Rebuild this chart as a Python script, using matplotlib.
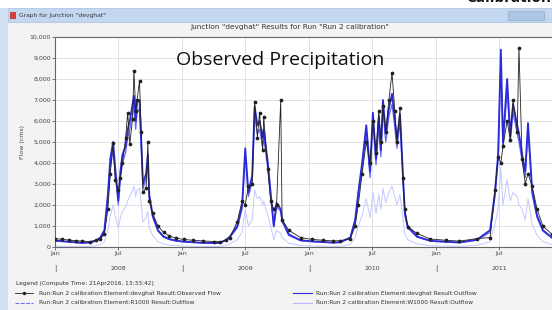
import matplotlib
matplotlib.use("Agg")
import matplotlib.pyplot as plt
import matplotlib.dates as mdates
from matplotlib.patches import Rectangle
from matplotlib.lines import Line2D
from matplotlib.ticker import FuncFormatter
import numpy as np

# ---- data (flow in cms) ----
dates = [
    "2008-01-01", "2008-01-20", "2008-02-10", "2008-03-01", "2008-03-20", "2008-04-10",
    "2008-04-28", "2008-05-10", "2008-05-22", "2008-06-01", "2008-06-08", "2008-06-16",
    "2008-06-22", "2008-07-01", "2008-07-07", "2008-07-13", "2008-07-22", "2008-07-28",
    "2008-08-03", "2008-08-11", "2008-08-15", "2008-08-20", "2008-08-24", "2008-08-31",
    "2008-09-05", "2008-09-10", "2008-09-19", "2008-09-24", "2008-09-28", "2008-10-08",
    "2008-10-23", "2008-11-08", "2008-11-25", "2008-12-15",
    "2009-01-05", "2009-02-01", "2009-03-01", "2009-04-01", "2009-04-20", "2009-05-08",
    "2009-05-18", "2009-06-08", "2009-06-22", "2009-07-01", "2009-07-10", "2009-07-21",
    "2009-07-28", "2009-08-05", "2009-08-11", "2009-08-20", "2009-08-23", "2009-09-04",
    "2009-09-12", "2009-09-21", "2009-09-29", "2009-10-11", "2009-10-15", "2009-11-03",
    "2009-12-07",
    "2010-01-10", "2010-02-10", "2010-03-10", "2010-03-31", "2010-04-29", "2010-05-13",
    "2010-05-22", "2010-06-02", "2010-06-14", "2010-06-25", "2010-07-03", "2010-07-12",
    "2010-07-20", "2010-07-26", "2010-08-01", "2010-08-09", "2010-08-18", "2010-08-27",
    "2010-09-04", "2010-09-10", "2010-09-19", "2010-09-27", "2010-10-03", "2010-10-11",
    "2010-11-07", "2010-12-14",
    "2011-01-30", "2011-03-09", "2011-04-28", "2011-06-05", "2011-06-19", "2011-06-28",
    "2011-07-06", "2011-07-12", "2011-07-24", "2011-08-02", "2011-08-10", "2011-08-22",
    "2011-08-27", "2011-09-05", "2011-09-14", "2011-09-22", "2011-10-04", "2011-10-18",
    "2011-11-04", "2011-11-30",
]
observed = [
    400, 370, 330, 300, 280, 260, 320, 380, 600, 1800, 3500, 4950,
    3200, 2700, 3300, 4000, 5200, 6400, 4900, 6100, 8400, 6500, 7000, 7900,
    5500, 2600, 2800, 5000, 2200, 1600, 1000, 700, 520, 420,
    360, 320, 290, 260, 250, 330, 450, 1200, 2200, 2000, 2900, 3000,
    6900, 5200, 6400, 4600, 6200, 3700, 2200, 1800, 2000, 7000, 1300, 800,
    450,
    360, 320, 290, 300, 400, 1000, 2000, 3500, 5000, 4000, 6000, 4500,
    6500, 5000, 6700, 5500, 7000, 8300, 6500, 5000, 6600, 3300, 1800, 950,
    650, 380,
    320, 280, 400, 450, 2700, 4300, 4000, 4800, 6000, 5100, 7000, 5500,
    9500, 4200, 3000, 3500, 2900, 1800, 1000, 600,
]
devghat_outflow = [
    300, 280, 250, 220, 200, 220, 300, 450, 800, 2500, 4200, 5000,
    3800, 2200, 3600, 4400, 4800, 5600, 6000, 6800, 7200, 6000, 6900, 7000,
    5000, 3000, 3500, 4400, 2500, 1500, 800, 500, 380, 300,
    260, 230, 200, 190, 200, 350, 500, 1000, 2000, 4700, 2600, 3400,
    6700, 5800, 6000, 5200, 5600, 4000, 2600, 1000, 2100, 1800, 1300, 600,
    320,
    270, 240, 210, 230, 450, 1300, 2600, 4000, 5800, 3600, 6400, 4200,
    6200, 4600, 7000, 5400, 6600, 7300, 6100, 5100, 6300, 3600, 1600, 1000,
    500, 300,
    250, 220, 350, 800, 2600, 4400, 9400, 5000, 8000, 5300, 6800, 5800,
    5400, 4400, 3600, 5900, 2700, 1500, 800, 450,
]
r1000_outflow = [
    280, 260, 240, 210, 190, 200, 280, 400, 700, 2200, 3800, 4600,
    3500, 2000, 3300, 4000, 4500, 5200, 5600, 6300, 6800, 5600, 6400, 6600,
    4700, 2800, 3200, 4100, 2300, 1400, 750, 470, 350, 280,
    240, 210, 190, 180, 190, 320, 460, 900, 1800, 4300, 2400, 3100,
    6200, 5400, 5600, 4800, 5200, 3700, 2400, 950, 1900, 1700, 1200, 550,
    300,
    250, 220, 200, 210, 420, 1200, 2400, 3700, 5400, 3300, 6000, 3900,
    5800, 4300, 6500, 5000, 6200, 6800, 5700, 4700, 5900, 3300, 1500, 900,
    470, 280,
    230, 200, 320, 700, 2400, 4100, 8800, 4700, 7500, 5000, 6400, 5400,
    5000, 4100, 3300, 5500, 2500, 1400, 750, 420,
]
w1000_outflow = [
    40, 35, 30, 30, 25, 30, 60, 120, 250, 800, 1500, 2000,
    1500, 900, 1400, 1700, 1900, 2200, 2400, 2700, 2900, 2400, 2700, 2800,
    2000, 1200, 1400, 1700, 900, 550, 250, 150, 90, 60,
    45, 35, 30, 25, 30, 80, 150, 350, 700, 1800, 1000, 1300,
    2700, 2300, 2400, 2000, 2200, 1500, 1000, 350, 800, 650, 450, 180,
    70,
    45, 35, 30, 35, 120, 450, 1000, 1500, 2300, 1400, 2600, 1600,
    2500, 1800, 2800, 2100, 2600, 2900, 2400, 2000, 2500, 1400, 600, 350,
    150, 60,
    40, 30, 80, 250, 1100, 1800, 3800, 2000, 3200, 2200, 2600, 2400,
    2000, 1800, 1300, 2300, 1100, 550, 250, 120,
]
yticks = [0, 1000, 2000, 3000, 4000, 5000, 6000, 7000, 8000, 9000, 10000]
half_years = ["2008-01-01", "2008-07-01", "2009-01-01", "2009-07-01",
              "2010-01-01", "2010-07-01", "2011-01-01", "2011-07-01"]
month_labels = ["Jan", "Jul", "Jan", "Jul", "Jan", "Jul", "Jan", "Jul"]
year_labels = ["2008", "2009", "2010", "2011"]
legend_labels = [
    "Run:Run 2 calibration Element:devghat Result:Observed Flow",
    "Run:Run 2 calibration Element:R1000 Result:Outflow",
    "Run:Run 2 calibration Element:devghat Result:Outflow",
    "Run:Run 2 calibration Element:W1000 Result:Outflow",
]

x = mdates.datestr2num(dates)
hy = mdates.datestr2num(half_years)

W, H = 552, 310
fig = plt.figure(figsize=(W / 100, H / 100), dpi=100)
fig.patch.set_facecolor("#f3f3f3")

def fx(px):
    return px / W

def fy(py):
    return 1 - py / H

# window chrome
fig.patches.append(Rectangle((0, fy(8)), 1, fy(0) - fy(8), transform=fig.transFigure,
                             facecolor="white", edgecolor="none", zorder=0))
fig.patches.append(Rectangle((0, 0), fx(8), fy(8), transform=fig.transFigure,
                             facecolor="#cfe0f3", edgecolor="none", zorder=0))
fig.patches.append(Rectangle((fx(8), fy(22)), 1, fy(8) - fy(22), transform=fig.transFigure,
                             facecolor="#c3d8f0", edgecolor="#a8c0e0", lw=0.5, zorder=0))
fig.patches.append(Rectangle((fx(508), fy(20)), fx(36), fy(11) - fy(20), transform=fig.transFigure,
                             facecolor="#adc6e6", edgecolor="#93aed4", lw=0.5, zorder=1))
fig.patches.append(Rectangle((fx(10), fy(19)), fx(6), fy(12) - fy(19), transform=fig.transFigure,
                             facecolor="#d04040", edgecolor="none", zorder=1))
fig.text(fx(19), fy(15.5), 'Graph for Junction "devghat"', fontsize=4.3, color="#333333",
         va="center", ha="left")
# page heading that the screenshot cuts off at the top edge
fig.text(fx(466), fy(-2), "Calibration", fontsize=11, weight="bold", color="#111111",
         va="center", ha="left", family="Open Sans")

fig.text(fx(290), fy(27), 'Junction "devghat" Results for Run "Run 2 calibration"',
         fontsize=5.3, color="#333333", ha="center", va="center")

ax = fig.add_axes([fx(55), fy(247), fx(552 - 55), fy(37) - fy(247)])
ax.set_facecolor("white")

ax.plot(x, w1000_outflow, color="#c4c8ff", lw=0.7, zorder=2)
ax.plot(x, r1000_outflow, color="#6a6af5", lw=0.9, zorder=3)
ax.plot(x, devghat_outflow, color="#2b2bd8", lw=1.3, zorder=4)
ax.plot(x, observed, color="#222222", lw=0.6, marker="o", ms=1.7, zorder=5)

ax.set_ylim(0, 10000)
ax.set_xlim(mdates.datestr2num("2008-01-01"), mdates.datestr2num("2011-11-30"))
ax.set_yticks(yticks)
ax.yaxis.set_major_formatter(FuncFormatter(lambda v, p: f"{int(v):,}"))
ax.set_xticks(hy)
ax.set_xticklabels(month_labels)
ax.tick_params(axis="both", labelsize=4.5, colors="#444444", length=2, width=0.5, pad=1)
ax.grid(True, color="#dddddd", lw=0.6)
ax.set_axisbelow(True)
for s in ["left", "bottom", "top"]:
    ax.spines[s].set_color("#666666")
    ax.spines[s].set_linewidth(0.8)
ax.spines["right"].set_visible(False)
ax.set_ylabel("Flow (cms)", fontsize=4.5, color="#444444", labelpad=3)

for i in range(4):
    ax.text(hy[2 * i], -0.1, "|", transform=ax.get_xaxis_transform(), fontsize=5,
            ha="center", va="center", color="#444444")
    ax.text(hy[2 * i + 1], -0.1, year_labels[i], transform=ax.get_xaxis_transform(),
            fontsize=4.5, ha="center", va="center", color="#444444")

fig.text(fx(280), fy(60), "Observed Precipitation", fontsize=14, color="#111111",
         ha="center", va="center", family="Open Sans")

# legend
fig.text(fx(16), fy(283), "Legend (Compute Time: 21Apr2016, 13:33:42)", fontsize=4.2,
         color="#333333", va="center")
rows = [(fx(15), fx(33), fx(39), fy(293)), (fx(15), fx(33), fx(39), fy(303)),
        (fx(293), fx(312), fx(316), fy(293)), (fx(293), fx(312), fx(316), fy(303))]
styles = [dict(color="#222222", lw=0.6, marker="o", ms=1.5, markevery=[1]),
          dict(color="#6a6af5", lw=0.7, ls=(0, (4, 1.5))),
          dict(color="#2b2bd8", lw=0.8),
          dict(color="#b4baff", lw=0.8)]
for (x0, x1, xt, yy), st, lab in zip(rows, styles, legend_labels):
    fig.add_artist(Line2D([x0, (x0 + x1) / 2, x1], [yy, yy, yy], transform=fig.transFigure, **st))
    fig.text(xt, yy, lab, fontsize=4.2, color="#333333", va="center")

fig.savefig("out.png", dpi=100, facecolor=fig.get_facecolor())
